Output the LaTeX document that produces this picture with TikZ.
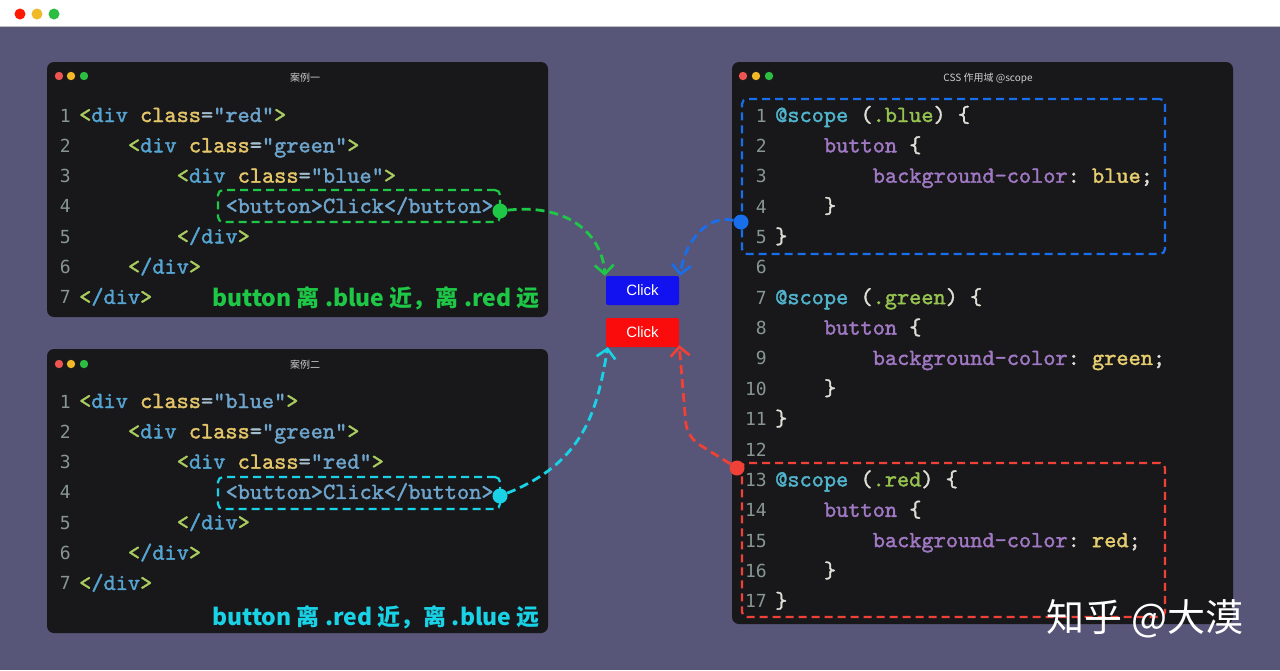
\documentclass[tikz,border=0pt]{standalone}
\usepackage{fontspec}
\setmainfont{Liberation Sans}
\newfontfamily\cjk{Noto Sans CJK SC}
\newfontfamily\numfont{DejaVu Sans Mono}
\newfontfamily\codefont{lmmono10-regular.otf}[FakeBold=1.6]
\usetikzlibrary{arrows.meta}

\definecolor{bgc}{RGB}{87,85,120}
\definecolor{winc}{RGB}{24,24,27}
\definecolor{numc}{RGB}{135,150,145}
\definecolor{titc}{RGB}{205,205,205}
\definecolor{brkc}{RGB}{170,205,95}
\definecolor{tagc}{RGB}{85,165,210}
\definecolor{attc}{RGB}{228,198,105}
\definecolor{eqc}{RGB}{165,190,205}
\definecolor{strc}{RGB}{110,165,205}
\definecolor{atc}{RGB}{80,180,205}
\definecolor{pnc}{RGB}{222,222,214}
\definecolor{selc}{RGB}{150,195,80}
\definecolor{proc}{RGB}{160,120,195}
\definecolor{valc}{RGB}{230,205,110}
\definecolor{gline}{RGB}{30,200,70}
\definecolor{cline}{RGB}{25,210,230}
\definecolor{bline}{RGB}{25,110,235}
\definecolor{rline}{RGB}{240,65,55}
\definecolor{btnblue}{RGB}{18,18,240}
\definecolor{btnred}{RGB}{250,12,12}
\definecolor{dred}{RGB}{236,85,80}
\definecolor{dyel}{RGB}{240,185,40}
\definecolor{dgrn}{RGB}{45,190,65}

%syntax colours
\newcommand{\cBr}[1]{\textcolor{brkc}{#1}}
\newcommand{\cTag}[1]{\textcolor{tagc}{#1}}
\newcommand{\cAtt}[1]{\textcolor{attc}{#1}}
\newcommand{\cEq}[1]{\textcolor{eqc}{#1}}
\newcommand{\cStr}[1]{\textcolor{strc}{#1}}
\newcommand{\cAt}[1]{\textcolor{atc}{#1}}
\newcommand{\cPun}[1]{\textcolor{pnc}{#1}}
\newcommand{\cSel}[1]{\textcolor{selc}{#1}}
\newcommand{\cPro}[1]{\textcolor{proc}{#1}}
\newcommand{\cVal}[1]{\textcolor{valc}{#1}}
\newcommand{\divopen}[1]{\cBr{<}\cTag{div} \cAtt{class}\cEq{=}\cStr{"#1"}\cBr{>}}
\newcommand{\divclose}{\cBr{<}\cTag{/div}\cBr{>}}
\newcommand{\scopeopen}[1]{\cAt{@scope} \cPun{(}\cSel{.#1}\cPun{)} \cPun{\{}}
\newcommand{\scopebtn}{\cPro{button} \cPun{\{}}
\newcommand{\scopeval}[1]{\cPro{background-color}\cPun{:} \cVal{#1}\cPun{;}}

\begin{document}
\begin{tikzpicture}[x=1pt,y=-1pt,
  code/.style={anchor=base west,inner sep=0,font=\fontsize{23.2}{26}\selectfont\codefont\frenchspacing},
  lnum/.style={anchor=base east,inner sep=0,text=numc,font=\fontsize{18}{22}\selectfont\numfont},
  wintitle/.style={inner sep=0,text=titc,font=\fontsize{10}{12}\selectfont\cjk},
  note/.style={anchor=base east,inner sep=0,font=\fontsize{23}{26}\selectfont\cjk\bfseries},
  btn/.style={minimum width=73,minimum height=29,rounded corners=2,inner sep=0,text=white,font=\fontsize{15}{18}\selectfont},
  dashbox/.style={draw,line width=2.2pt,dash pattern=on 8pt off 5pt,rounded corners=5,inner sep=0},
  dot/.style={circle,inner sep=0,minimum size=15},
  link/.style={line width=2.8pt,dash pattern=on 9pt off 5pt,-{Straight Barb[length=9pt,width=19pt,line width=2.6pt]}}]
\useasboundingbox (0,0) rectangle (1280,670);

%background and top bar
\fill[bgc] (0,0) rectangle (1280,670);
\fill[white] (0,0) rectangle (1280,26);
\draw[black!25] (0,26) -- (1280,26);
\fill[red!80!orange] (20,14) circle (5.5);
\fill[dyel] (37,14) circle (5.5);
\fill[dgrn] (54,14) circle (5.5);

%windows
\fill[winc,rounded corners=7] (47,62) rectangle (548,317);
\fill[winc,rounded corners=7] (47,349) rectangle (548,633);
\fill[winc,rounded corners=7] (732,62) rectangle (1233,624);
\foreach \x/\y/\c in {59/76/dred,71/76/dyel,84/76/dgrn,59/364/dred,71/364/dyel,84/364/dgrn,743/76/dred,756/76/dyel,769/76/dgrn}
  \fill[\c] (\x,\y) circle (4.2);
\node[wintitle] (ta) at (305,78) {案例一};
\node[wintitle] (tb) at (305,365) {案例二};
\node[wintitle] (tc) at (988,78) {CSS 作用域 @scope};

%case one
\foreach \i in {1,...,7}
  \node[lnum] (an\i) at (71,{122+30.33*(\i-1)}) {\i};
\foreach \i/\ind/\txt in {1/0/{\divopen{red}},2/4/{\divopen{green}},3/8/{\divopen{blue}},4/12/{\cStr{<button>Click</button>}},5/8/{\divclose},6/4/{\divclose},7/0/{\divclose}}
  \node[code] (a\i) at ({79+12.2*\ind},{122+30.33*(\i-1)}) {\txt};
\node[dashbox,gline,minimum width=282,minimum height=32] (boxg) at (359,206) {};
\node[note,text=gline] (notea) at (540,306) {button 离 .blue 近，离 .red 远};

%case two
\foreach \i in {1,...,7}
  \node[lnum] (bn\i) at (71,{408+30.33*(\i-1)}) {\i};
\foreach \i/\ind/\txt in {1/0/{\divopen{blue}},2/4/{\divopen{green}},3/8/{\divopen{red}},4/12/{\cStr{<button>Click</button>}},5/8/{\divclose},6/4/{\divclose},7/0/{\divclose}}
  \node[code] (b\i) at ({79+12.2*\ind},{408+30.33*(\i-1)}) {\txt};
\node[dashbox,cline,minimum width=282,minimum height=32] (boxc) at (359,493) {};
\node[note,text=cline] (noteb) at (540,625) {button 离 .red 近，离 .blue 远};

%css @scope
\foreach \i in {1,...,17}
  \node[lnum] (cn\i) at (767,{122+30.37*(\i-1)}) {\i};
\foreach \i/\ind/\txt in {1/0/{\scopeopen{blue}},2/4/{\scopebtn},3/8/{\scopeval{blue}},4/4/{\cPun{\}}},5/0/{\cPun{\}}},
    7/0/{\scopeopen{green}},8/4/{\scopebtn},9/8/{\scopeval{green}},10/4/{\cPun{\}}},11/0/{\cPun{\}}},
    13/0/{\scopeopen{red}},14/4/{\scopebtn},15/8/{\scopeval{red}},16/4/{\cPun{\}}},17/0/{\cPun{\}}}}
  \node[code] (c\i) at ({775+12.2*\ind},{122+30.37*(\i-1)}) {\txt};
\node[dashbox,bline,minimum width=423,minimum height=155] (boxb) at (953.5,176.5) {};
\node[dashbox,rline,minimum width=423,minimum height=154] (boxr) at (953.5,540) {};

%buttons
\node[btn,fill=btnblue] (btnb) at (642.5,290.5) {Click};
\node[btn,fill=btnred] (btnr) at (642.5,332.5) {Click};

%dots
\node[dot,fill=gline] (dg) at (500,211) {};
\node[dot,fill=cline] (dc) at (500,496) {};
\node[dot,fill=bline] (db) at (741,222) {};
\node[dot,fill=rline] (dr) at (737,468) {};
\coordinate (rbend) at (687,437);

%links
\draw[link,gline] (dg) .. controls (572,203) and (603,238) .. ([xshift=-1]btnb.north west);
\draw[link,bline] (db) .. controls (705,214) and (684,245) .. ([xshift=1]btnb.north east);
\draw[link,cline] (dc) .. controls (585,462) and (597,410) .. ([xshift=2]btnr.south west);
\draw[link,rline,rounded corners=14] (dr) -- (rbend) -- ([yshift=2]btnr.south east);

%watermark
\node[text=white,font=\fontsize{38}{42}\selectfont\cjk] (mark) at (1145,619) {知乎 @大漠};
\end{tikzpicture}
\end{document}
